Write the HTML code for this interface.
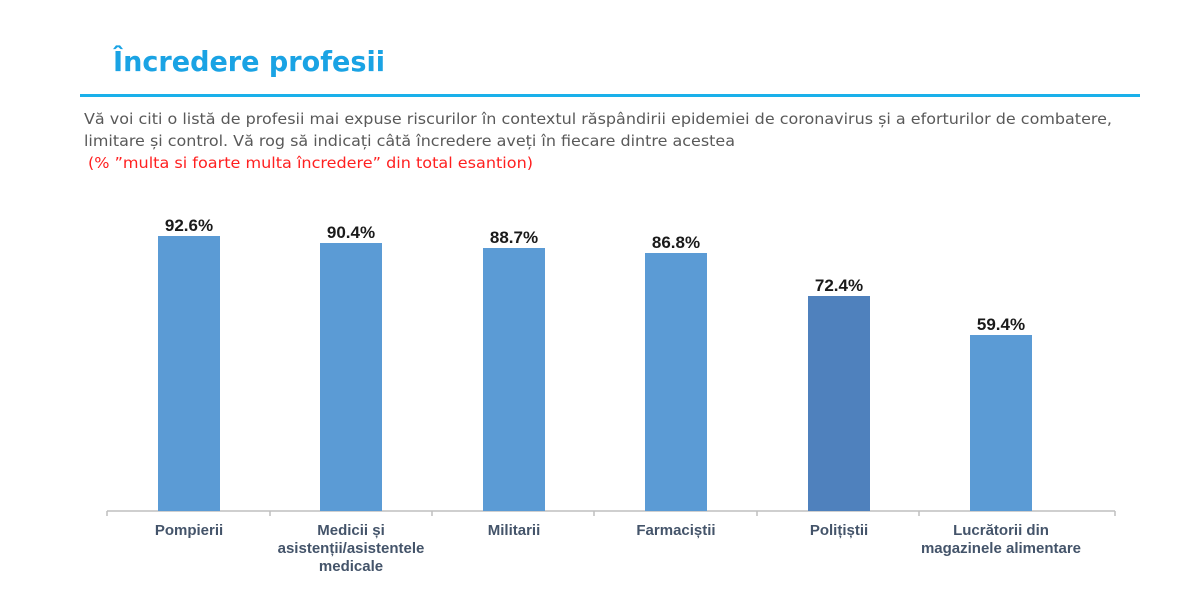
<!DOCTYPE html>
<html><head><meta charset="utf-8"><style>
body{margin:0;width:1200px;height:600px;background:#fff;overflow:hidden;font-family:"Liberation Sans",sans-serif}
</style></head><body>
<svg width="1200" height="600" xmlns="http://www.w3.org/2000/svg" font-family="DejaVu Sans, Liberation Sans, sans-serif">
<text x="113" y="71" font-size="28" font-weight="bold" fill="#1aa3e4" textLength="272" lengthAdjust="spacingAndGlyphs">Încredere profesii</text>
<rect x="80" y="94" width="1060" height="3" fill="#1ab0ea"/>
<text x="84" y="124" font-size="15" fill="#595959" textLength="1028" lengthAdjust="spacingAndGlyphs">Vă voi citi o listă de profesii mai expuse riscurilor în contextul răspândirii epidemiei de coronavirus și a eforturilor de combatere,</text>
<text x="84" y="146" font-size="15" fill="#595959" textLength="651" lengthAdjust="spacingAndGlyphs">limitare și control. Vă rog să indicați câtă încredere aveți în fiecare dintre acestea</text>
<text x="88" y="168" font-size="15" fill="#ff2020" textLength="445" lengthAdjust="spacingAndGlyphs">(% ”multa si foarte multa încredere” din total esantion)</text>
<g stroke="#bfbfbf" stroke-width="1.5">
<line x1="107" y1="511" x2="1115" y2="511"/>
<line x1="107" y1="511" x2="107" y2="516"/><line x1="270" y1="511" x2="270" y2="516"/>
<line x1="432" y1="511" x2="432" y2="516"/><line x1="594" y1="511" x2="594" y2="516"/>
<line x1="757" y1="511" x2="757" y2="516"/><line x1="919" y1="511" x2="919" y2="516"/>
<line x1="1115" y1="511" x2="1115" y2="516"/>
</g>
<g fill="#5b9bd5">
<rect x="158" y="236" width="62" height="275"/>
<rect x="320" y="243" width="62" height="268"/>
<rect x="483" y="248" width="62" height="263"/>
<rect x="645" y="253" width="62" height="258"/>
<rect x="808" y="296" width="62" height="215" fill="#4f81bd"/>
<rect x="970" y="335" width="62" height="176"/>
</g>
<g font-family="Liberation Sans, sans-serif" font-size="17" font-weight="bold" fill="#1a1a1a" text-anchor="middle">
<text x="189" y="231">92.6%</text>
<text x="351" y="238">90.4%</text>
<text x="514" y="243">88.7%</text>
<text x="676" y="248">86.8%</text>
<text x="839" y="291">72.4%</text>
<text x="1001" y="330">59.4%</text>
</g>
<g font-family="Liberation Sans, sans-serif" font-size="15" font-weight="bold" fill="#44546a" text-anchor="middle">
<text x="189" y="535">Pompierii</text>
<text x="351" y="535">Medicii și</text>
<text x="351" y="553">asistenții/asistentele</text>
<text x="351" y="571">medicale</text>
<text x="514" y="535">Militarii</text>
<text x="676" y="535">Farmaciștii</text>
<text x="839" y="535">Polițiștii</text>
<text x="1001" y="535">Lucrătorii din</text>
<text x="1001" y="553">magazinele alimentare</text>
</g>
</svg>
</body></html>
